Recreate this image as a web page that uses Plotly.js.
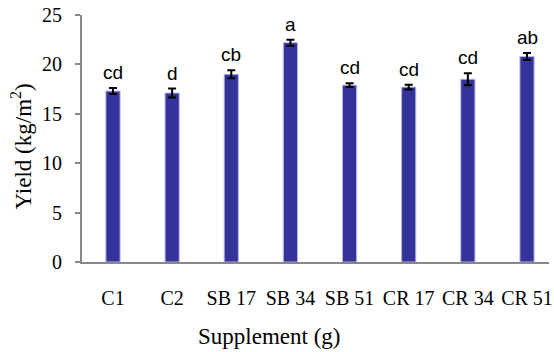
<!DOCTYPE html>
<html><head><meta charset="utf-8">
<script src="https://cdn.plot.ly/plotly-3.0.1.min.js"></script>
<style>html,body{margin:0;padding:0;background:#fff}#chart{width:554px;height:352px}</style>
</head><body><div id="chart"></div>
<script>
const categories = ["C1","C2","SB 17","SB 34","SB 51","CR 17","CR 34","CR 51"];
const yieldValues = [17.3, 17.1, 19.0, 22.2, 17.9, 17.7, 18.5, 20.8];
const errorValues = [0.3, 0.45, 0.4, 0.3, 0.2, 0.25, 0.6, 0.35];
const groupLetters = ["cd","d","cb","a","cd","cd","cd","ab"];
const yTicks = [0,5,10,15,20,25];
const xTitle = "Supplement (g)";
const yTitle = "Yield (kg/m<sup>2</sup>)";

const serif = "Liberation Serif, Times New Roman, serif";

const trace = {
  type: "bar",
  x: categories,
  y: yieldValues,
  width: 0.24,
  marker: {color: "#333399", line: {color: "#b8b8e8", width: 1}},
  error_y: {type: "data", array: errorValues, visible: true, color: "#000", thickness: 2, width: 4},
  hoverinfo: "none"
};

const annotations = categories.map((c, i) => ({
  x: c, y: yieldValues[i] + errorValues[i], xref: "x", yref: "y",
  text: groupLetters[i], showarrow: false, yanchor: "bottom", yshift: 3,
  font: {family: "Liberation Sans, Arial, sans-serif", size: 19, color: "#000"}
}));
annotations.push({
  text: xTitle, xref: "paper", yref: "paper", x: 0.4004, y: -0.3036,
  xanchor: "center", yanchor: "middle", showarrow: false,
  font: {family: serif, size: 23, color: "#000"}
});
annotations.push({
  text: yTitle, xref: "paper", yref: "paper", x: -0.1285, y: 0.4676,
  xanchor: "center", yanchor: "middle", showarrow: false, textangle: -90,
  font: {family: serif, size: 23, color: "#000"}
});

const layout = {
  width: 554, height: 352,
  margin: {l: 82, r: 5, t: 15, b: 90},
  paper_bgcolor: "#fff", plot_bgcolor: "#fff",
  showlegend: false,
  font: {family: serif, size: 20, color: "#000"},
  xaxis: {
    type: "category",
    range: [-0.524, 7.372],
    showline: true, linecolor: "#888", linewidth: 2,
    ticks: "", showgrid: false, zeroline: false,
    tickfont: {family: serif, size: 20},
    ticklabelstandoff: 17,
    automargin: false
  },
  yaxis: {
    range: [0, 25], tickvals: yTicks,
    showline: true, linecolor: "#888", linewidth: 2,
    ticks: "outside", ticklen: 5, tickcolor: "#888", tickwidth: 2,
    showgrid: false, zeroline: false,
    tickfont: {family: serif, size: 20},
    ticklabelstandoff: 9,
    automargin: false
  },
  annotations: annotations
};

Plotly.newPlot("chart", [trace], layout, {staticPlot: true, displayModeBar: false});
</script>
</body></html>
